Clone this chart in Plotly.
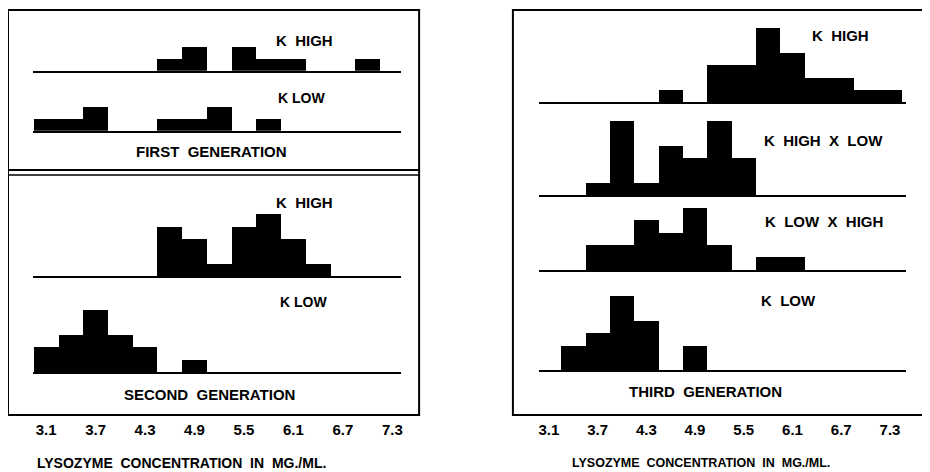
import plotly.graph_objects as go

# page has an 8px body margin, so the figure is drawn at (8, 8)
OFF = 8
W, H = 930 - OFF, 472 - OFF

# ---------------- data ----------------
bin_centers = [3.1, 3.4, 3.7, 4.0, 4.3, 4.6, 4.9, 5.2, 5.5, 5.8, 6.1, 6.4, 6.7, 7.0, 7.3]
tick_vals = [3.1, 3.7, 4.3, 4.9, 5.5, 6.1, 6.7, 7.3]
tick_text = ["3.1", "3.7", "4.3", "4.9", "5.5", "6.1", "6.7", "7.3"]

first_k_high = [0, 0, 0, 0, 0, 1, 2, 0, 2, 1, 1, 0, 0, 1, 0]
first_k_low = [1, 1, 2, 0, 0, 1, 1, 2, 0, 1, 0, 0, 0, 0, 0]
second_k_high = [0, 0, 0, 0, 0, 4, 3, 1, 4, 5, 3, 1, 0, 0, 0]
second_k_low = [2, 3, 5, 3, 2, 0, 1, 0, 0, 0, 0, 0, 0, 0, 0]
third_k_high = [0, 0, 0, 0, 0, 1, 0, 3, 3, 6, 4, 2, 2, 1, 1]
third_k_high_x_low = [0, 0, 1, 6, 1, 4, 3, 6, 3, 0, 0, 0, 0, 0, 0]
third_k_low_x_high = [0, 0, 2, 2, 4, 3, 5, 2, 0, 1, 1, 0, 0, 0, 0]
third_k_low = [0, 2, 3, 6, 4, 0, 2, 0, 0, 0, 0, 0, 0, 0, 0]

x_title = "LYSOZYME  CONCENTRATION  IN  MG./ML."

# ---------------- layout helpers (page pixels -> paper) ----------------
def fx(px):
    return (px - OFF) / W

def fy(py):
    return 1 - (py - OFF) / H

UNIT = 12.3  # px per count
FONT = "Liberation Sans"

left_x = dict(domain=[fx(33), fx(402)], range=[2.94, 7.407])
right_x = dict(domain=[fx(540), fx(908)], range=[2.977, 7.498])

# (series, side, baseline px, ymax)
panels = [
    (first_k_high, "L", 70.7, 4),
    (first_k_low, "L", 130.7, 4),
    (second_k_high, "L", 276, 6),
    (second_k_low, "L", 372, 6),
    (third_k_high, "R", 102, 7),
    (third_k_high_x_low, "R", 195, 7),
    (third_k_low_x_high, "R", 270, 5.5),
    (third_k_low, "R", 370, 7),
]

fig = go.Figure()
layout = dict(
    width=W, height=H,
    margin=dict(l=0, r=0, t=0, b=0),
    paper_bgcolor="white", plot_bgcolor="rgba(0,0,0,0)",
    showlegend=False, bargap=0,
    font=dict(family=FONT, color="black", size=13),
)

for i, (series, side, base, ymax) in enumerate(panels, start=1):
    xa = "x" if i == 1 else f"x{i}"
    ya = "y" if i == 1 else f"y{i}"
    fig.add_trace(go.Bar(
        x=bin_centers, y=series, width=0.3,
        marker=dict(color="black", line=dict(width=0)),
        xaxis=xa, yaxis=ya, hoverinfo="skip",
    ))
    xd = left_x if side == "L" else right_x
    top = base - ymax * UNIT
    layout[f"xaxis{'' if i == 1 else i}"] = dict(
        domain=xd["domain"], range=xd["range"], anchor=ya,
        showline=True, linecolor="black", linewidth=2,
        showgrid=False, zeroline=False, showticklabels=False, ticks="",
        fixedrange=True,
    )
    layout[f"yaxis{'' if i == 1 else i}"] = dict(
        domain=[fy(base), fy(top)], range=[0, ymax], anchor=xa,
        visible=False, fixedrange=True,
    )

# tick-label axes (below the boxes)
for j, xd in ((9, left_x), (10, right_x)):
    fig.add_trace(go.Scatter(
        x=tick_vals, y=[0] * len(tick_vals), mode="markers",
        marker=dict(opacity=0), xaxis=f"x{j}", yaxis=f"y{j}", hoverinfo="skip",
    ))
    layout[f"xaxis{j}"] = dict(
        domain=xd["domain"], range=xd["range"], anchor=f"y{j}",
        tickvals=tick_vals, ticktext=tick_text, ticks="",
        showline=False, showgrid=False, zeroline=False,
        tickfont=dict(family=FONT, size=15, color="black", weight="bold"),
        ticklabelstandoff=2, fixedrange=True,
    )
    layout[f"yaxis{j}"] = dict(
        domain=[fy(417), fy(412)], range=[0, 1], anchor=f"x{j}",
        visible=False, fixedrange=True,
    )

# boxes
line = dict(color="black", width=2)
shapes = [
    dict(type="rect", xref="paper", yref="paper", x0=fx(8), x1=fx(420), y0=fy(415), y1=fy(10), line=line),
    dict(type="line", xref="paper", yref="paper", x0=fx(8), x1=fx(420), y0=fy(170), y1=fy(170), line=line),
    dict(type="line", xref="paper", yref="paper", x0=fx(8), x1=fx(420), y0=fy(175), y1=fy(175), line=dict(color="black", width=1.5)),
    dict(type="rect", xref="paper", yref="paper", x0=fx(514), x1=fx(925), y0=fy(415), y1=fy(10), line=line),
]
layout["shapes"] = shapes

# labels (text, x, y, size)
labels = [
    ("K  HIGH", 305, 41, 15),
    ("K LOW", 302, 98, 14),
    ("FIRST  GENERATION", 212, 151, 15),
    ("K  HIGH", 305, 202, 15),
    ("K LOW", 304, 302, 14),
    ("SECOND  GENERATION", 210, 394, 15),
    ("K  HIGH", 842, 36, 15),
    ("K  HIGH  X  LOW", 825, 140, 15),
    ("K  LOW  X  HIGH", 826, 221, 15),
    ("K  LOW", 790, 300, 15),
    ("THIRD  GENERATION", 707, 391, 15),
    (x_title, 182, 463, 14),
    (x_title, 703, 463, 12.5),
]
ann = []
for text, x, y, s in labels:
    ann.append(dict(
        text=text, x=fx(x), y=fy(y), xref="paper", yref="paper",
        showarrow=False, xanchor="center", yanchor="middle",
        font=dict(family=FONT, size=s, color="black", weight="bold"),
    ))
layout["annotations"] = ann

fig.update_layout(**layout)
fig.write_html("out.html")
